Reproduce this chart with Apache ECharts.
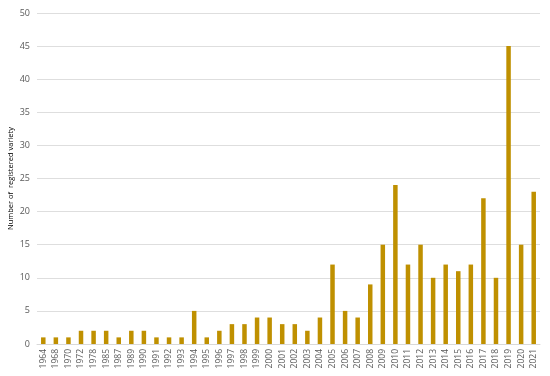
<!DOCTYPE html>
<html>
<head>
<meta charset="utf-8">
<script src="https://cdn.jsdelivr.net/npm/echarts@6/dist/echarts.min.js"></script>
<style>
  html, body { margin: 0; padding: 0; background: #fff; }
  #chart { width: 550px; height: 376px; }
</style>
</head>
<body>
<div id="chart"></div>
<script>
// years with registrations
var years = ['1964', '1968', '1970', '1972', '1978', '1985', '1987', '1989', '1990', '1991',
  '1992', '1993', '1994', '1995', '1996', '1997', '1998', '1999', '2000', '2001',
  '2002', '2003', '2004', '2005', '2006', '2007', '2008', '2009', '2010', '2011',
  '2012', '2013', '2014', '2015', '2016', '2017', '2018', '2019', '2020', '2021'];
// number of registered varieties per year
var counts = [1, 1, 1, 2, 2, 2, 1, 2, 2, 1,
  1, 1, 5, 1, 2, 3, 3, 4, 4, 3,
  3, 2, 4, 12, 5, 4, 9, 15, 24, 12,
  15, 10, 12, 11, 12, 22, 10, 45, 15, 23];

var myChart = echarts.init(document.getElementById('chart'));
myChart.setOption({
  animation: false,
  grid: { left: 37, right: 10, top: 13, bottom: 32, outerBoundsMode: 'none' },
  xAxis: {
    type: 'category',
    data: years,
    axisLine: { show: true, lineStyle: { color: '#d9d9d9' } },
    axisTick: { show: false },
    axisLabel: {
      rotate: 90,
      interval: 0,
      color: '#595959',
      fontSize: 8.5,
      fontFamily: 'Open Sans',
      margin: 5
    }
  },
  yAxis: {
    type: 'value',
    min: 0,
    max: 50,
    interval: 5,
    name: 'Number of  registered variety',
    nameLocation: 'middle',
    nameGap: 22,
    nameMoveOverlap: false,
    nameTextStyle: { fontSize: 7.5, color: '#000', fontFamily: 'Open Sans' },
    axisLine: { show: false },
    axisTick: { show: false },
    splitLine: { lineStyle: { color: '#dedede', width: 1 } },
    axisLabel: { color: '#595959', fontSize: 9, fontFamily: 'Open Sans', margin: 7 }
  },
  series: [{
    type: 'bar',
    data: counts,
    barWidth: 4.5,
    itemStyle: { color: '#bf9000' }
  }]
});
</script>
</body>
</html>
